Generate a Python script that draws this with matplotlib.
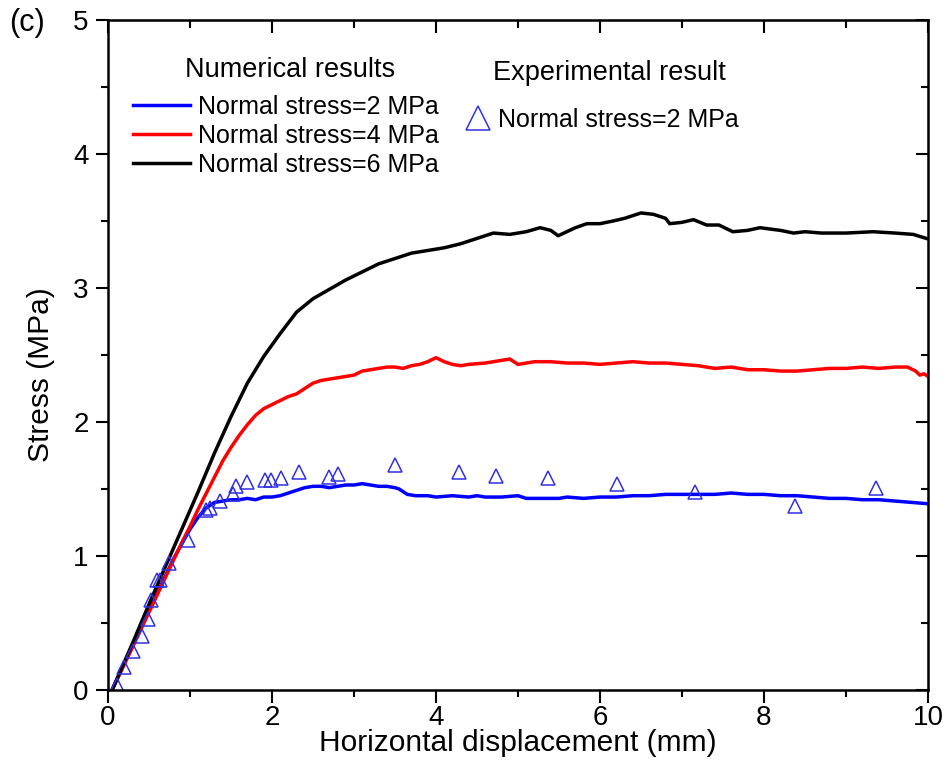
"""Shear stress vs horizontal displacement: numerical curves and test points."""

import matplotlib
matplotlib.use("Agg")
import matplotlib.pyplot as plt
from matplotlib.ticker import MultipleLocator

plt.rcParams["font.family"] = ["Liberation Sans", "DejaVu Sans"]

# Numerical result, normal stress = 2 MPa
x_2mpa = [0.05, 0.2, 0.4, 0.6, 0.8, 1.0, 1.1, 1.2, 1.3, 1.4, 1.5, 1.6, 1.7,
          1.8, 1.9, 2.0, 2.1, 2.2, 2.3, 2.4, 2.5, 2.6, 2.7, 2.8, 2.9, 3.0,
          3.1, 3.2, 3.3, 3.4, 3.5, 3.55, 3.65, 3.75, 3.9, 4.0, 4.2, 4.4,
          4.5, 4.6, 4.8, 5.0, 5.1, 5.3, 5.5, 5.6, 5.8, 6.0, 6.2, 6.4, 6.6,
          6.8, 7.0, 7.2, 7.4, 7.6, 7.8, 8.0, 8.2, 8.4, 8.6, 8.8, 9.0, 9.2,
          9.4, 9.6, 9.8, 10.0]
y_2mpa = [0.0, 0.2, 0.46, 0.72, 0.98, 1.2, 1.29, 1.36, 1.40, 1.41, 1.42,
          1.42, 1.43, 1.42, 1.44, 1.44, 1.45, 1.47, 1.49, 1.51, 1.52, 1.52,
          1.51, 1.52, 1.53, 1.53, 1.54, 1.53, 1.52, 1.52, 1.51, 1.50, 1.46,
          1.45, 1.45, 1.44, 1.45, 1.44, 1.45, 1.44, 1.44, 1.45, 1.43, 1.43,
          1.43, 1.44, 1.43, 1.44, 1.44, 1.45, 1.45, 1.46, 1.46, 1.46, 1.46,
          1.47, 1.46, 1.46, 1.45, 1.45, 1.44, 1.43, 1.43, 1.42, 1.42, 1.41,
          1.40, 1.39]

# Numerical result, normal stress = 4 MPa
x_4mpa = [0.05, 0.3, 0.5, 0.7, 0.9, 1.0, 1.1, 1.2, 1.3, 1.4, 1.5, 1.6, 1.7,
          1.8, 1.9, 2.0, 2.1, 2.2, 2.3, 2.4, 2.5, 2.6, 2.7, 2.8, 2.9, 3.0,
          3.1, 3.2, 3.3, 3.4, 3.5, 3.6, 3.7, 3.8, 3.9, 4.0, 4.1, 4.2, 4.3,
          4.4, 4.6, 4.8, 4.9, 5.0, 5.2, 5.4, 5.6, 5.8, 6.0, 6.2, 6.4, 6.6,
          6.8, 7.0, 7.2, 7.4, 7.6, 7.8, 8.0, 8.2, 8.4, 8.6, 8.8, 9.0, 9.2,
          9.4, 9.6, 9.75, 9.85, 9.9, 9.95, 10.0]
y_4mpa = [0.0, 0.32, 0.58, 0.84, 1.10, 1.22, 1.35, 1.47, 1.59, 1.71, 1.81,
          1.90, 1.98, 2.05, 2.10, 2.13, 2.16, 2.19, 2.21, 2.25, 2.29, 2.31,
          2.32, 2.33, 2.34, 2.35, 2.38, 2.39, 2.40, 2.41, 2.41, 2.40, 2.42,
          2.43, 2.45, 2.48, 2.45, 2.43, 2.42, 2.43, 2.44, 2.46, 2.47, 2.43,
          2.45, 2.45, 2.44, 2.44, 2.43, 2.44, 2.45, 2.44, 2.44, 2.43, 2.42,
          2.40, 2.41, 2.39, 2.39, 2.38, 2.38, 2.39, 2.40, 2.40, 2.41, 2.40,
          2.41, 2.41, 2.38, 2.35, 2.36, 2.34]

# Numerical result, normal stress = 6 MPa
x_6mpa = [0.05, 0.3, 0.5, 0.7, 0.9, 1.1, 1.3, 1.5, 1.7, 1.9, 2.1, 2.3, 2.5,
          2.7, 2.9, 3.1, 3.3, 3.5, 3.7, 3.9, 4.1, 4.3, 4.5, 4.7, 4.9, 5.1,
          5.27, 5.4, 5.49, 5.7, 5.84, 6.0, 6.16, 6.3, 6.5, 6.65, 6.8, 6.85,
          7.0, 7.14, 7.3, 7.45, 7.62, 7.8, 7.95, 8.2, 8.36, 8.5, 8.7, 9.0,
          9.33, 9.6, 9.82, 9.98]
y_6mpa = [0.0, 0.35, 0.64, 0.92, 1.20, 1.48, 1.77, 2.04, 2.29, 2.49, 2.66,
          2.82, 2.92, 2.99, 3.06, 3.12, 3.18, 3.22, 3.26, 3.28, 3.30, 3.33,
          3.37, 3.41, 3.40, 3.42, 3.45, 3.43, 3.39, 3.45, 3.48, 3.48, 3.50,
          3.52, 3.56, 3.55, 3.52, 3.48, 3.49, 3.51, 3.47, 3.47, 3.42, 3.43,
          3.45, 3.43, 3.41, 3.42, 3.41, 3.41, 3.42, 3.41, 3.40, 3.37]

# Experimental result, normal stress = 2 MPa
x_exp = [0.11, 0.195, 0.30, 0.42, 0.49, 0.53, 0.60, 0.64, 0.74, 0.97, 1.20,
         1.24, 1.37, 1.52, 1.56, 1.70, 1.91, 1.99, 2.11, 2.33, 2.69, 2.80,
         3.50, 4.28, 4.73, 5.37, 6.21, 7.16, 8.38, 9.37]
y_exp = [0.04, 0.17, 0.29, 0.40, 0.53, 0.67, 0.82, 0.82, 0.95, 1.12, 1.34,
         1.36, 1.41, 1.46, 1.52, 1.55, 1.57, 1.57, 1.58, 1.63, 1.59, 1.61,
         1.68, 1.63, 1.60, 1.58, 1.54, 1.48, 1.37, 1.51]

fig = plt.figure(figsize=(9.48, 7.81), dpi=100)
ax = fig.add_axes([0.1139, 0.1165, 0.8650, 0.8579])

l2, = ax.plot(x_2mpa, y_2mpa, color="#0000ff", lw=2.5,
              label="Normal stress=2 MPa")
l4, = ax.plot(x_4mpa, y_4mpa, color="#ff0000", lw=2.5,
              label="Normal stress=4 MPa")
l6, = ax.plot(x_6mpa, y_6mpa, color="black", lw=2.5,
              label="Normal stress=6 MPa")
pe, = ax.plot(x_exp, y_exp, ls="none", marker="^", ms=10.5, mfc="none",
              mec="#3030e0", mew=1.1, label="Normal stress=2 MPa")

ax.set_xlim(0, 10)
ax.set_ylim(0, 5)
ax.xaxis.set_major_locator(MultipleLocator(2))
ax.xaxis.set_minor_locator(MultipleLocator(1))
ax.yaxis.set_major_locator(MultipleLocator(1))
ax.yaxis.set_minor_locator(MultipleLocator(0.5))
ax.tick_params(which="major", direction="out", length=9, width=1.5,
               labelsize=20)
ax.tick_params(which="minor", direction="out", length=5, width=1.5)
ax.tick_params(axis="x", which="major", pad=1.5)
ax.tick_params(axis="y", which="major", pad=5)
for sp in ax.spines.values():
    sp.set_linewidth(1.8)

# Origin-style inward ticks on the top and right edges
top = ax.secondary_xaxis("top")
top.xaxis.set_major_locator(MultipleLocator(2))
top.xaxis.set_minor_locator(MultipleLocator(1))
top.tick_params(which="major", direction="in", length=9, width=1.5,
                labeltop=False)
top.tick_params(which="minor", direction="in", length=6, width=1.5)
right = ax.secondary_yaxis("right")
right.yaxis.set_major_locator(MultipleLocator(1))
right.yaxis.set_minor_locator(MultipleLocator(0.5))
right.tick_params(which="major", direction="in", length=9, width=1.5,
                  labelright=False)
right.tick_params(which="minor", direction="in", length=5, width=1.5)

ax.set_xlabel("Horizontal displacement (mm)", fontsize=21.5)
ax.set_ylabel("Stress (MPa)", fontsize=21.5)
ax.xaxis.set_label_coords(0.5, -0.058)
ax.yaxis.set_label_coords(-0.0646, 0.47)

leg1 = ax.legend(handles=[l2, l4, l6], loc="center left",
                 bbox_to_anchor=(0.0305, 0.827), frameon=False, fontsize=18,
                 handlelength=2.3, handletextpad=0.3, labelspacing=0.2,
                 borderpad=0, borderaxespad=0)
ax.add_artist(leg1)
ax.legend(handles=[pe], loc="center left", bbox_to_anchor=(0.436, 0.851),
          frameon=False, fontsize=18, handlelength=1.0, handletextpad=0.3,
          markerscale=1.7, borderpad=0, borderaxespad=0)

ax.text(0.222, 0.925, "Numerical results", transform=ax.transAxes,
        fontsize=19.5, ha="center", va="center")
ax.text(0.6116, 0.921, "Experimental result", transform=ax.transAxes,
        fontsize=19.5, ha="center", va="center")
fig.text(0.028, 0.970, "(c)", fontsize=22, ha="center", va="center")

fig.savefig("out.png", dpi=100)
plt.close(fig)
